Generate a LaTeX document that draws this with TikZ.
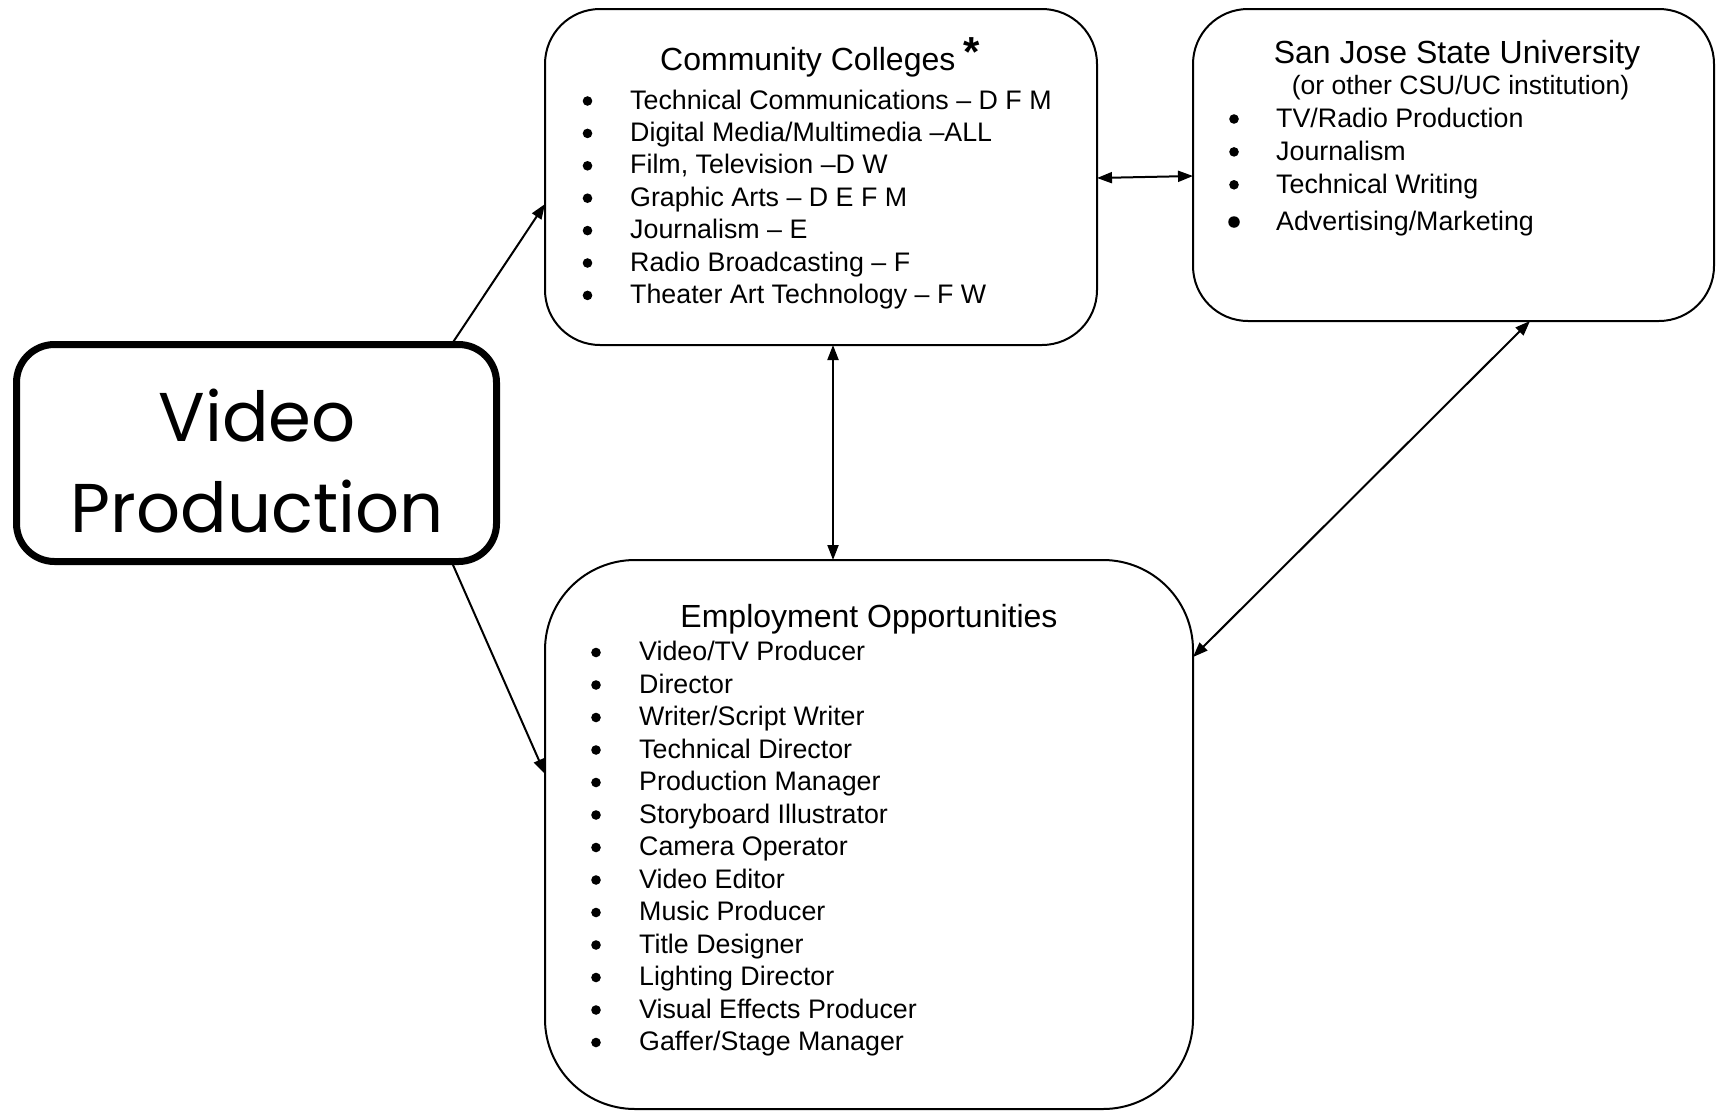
\documentclass[tikz,border=0pt]{standalone}
\usepackage{fontspec}
\setmainfont{Liberation Sans}
\newfontfamily\vpfont{Poppins}
\usetikzlibrary{arrows.meta}
\begin{document}
\begin{tikzpicture}[x=1pt,y=-1pt,
  box/.style={draw, line width=2pt, rounded corners=#1, inner sep=0pt, outer sep=0pt},
  itemtxt/.style={anchor=base west, inner sep=0pt, font=\fontsize{26.8}{32}\selectfont},
  headtxt/.style={anchor=base, inner sep=0pt, font=\fontsize{32}{38}\selectfont},
  subtxt/.style={anchor=base, inner sep=0pt, font=\fontsize{26.5}{32}\selectfont},
  dot/.style={circle, fill, draw=none, inner sep=0pt, minimum size=#1},
  conn/.style={line width=2pt, -{Triangle[length=15pt,width=11pt]}},
  biconn/.style={line width=2pt, {Triangle[length=15pt,width=11pt]}-{Triangle[length=15pt,width=11pt]}}]
\useasboundingbox (0,0) rectangle (1716,1111);
% boxes
\node[box=38pt, line width=7pt, minimum width=480pt, minimum height=217pt] (vp) at (256.5,453) {};
\node[align=center, inner sep=0pt, font=\vpfont\fontsize{69}{91}\selectfont] (vptext) at (257,461) {Video\\Production};
\node[box=55pt, minimum width=552pt, minimum height=336pt] (cc) at (821,177) {};
\node[box=55pt, minimum width=521pt, minimum height=312pt] (sj) at (1453.5,165) {};
\node[box=90pt, minimum width=648pt, minimum height=549pt] (emp) at (869,834.5) {};
% community colleges
\node[anchor=base west, inner sep=0pt, font=\fontsize{32}{38}\selectfont] (cct) at (660,70) {Community Colleges};
\node[anchor=center, inner sep=0pt, font=\fontsize{42}{46}\selectfont] (ccstar) at (972,52) {\textbf{*}};
\foreach \t [count=\i from 0] in {Technical Communications – D F M, Digital Media/Multimedia –ALL, {Film, Television –D W}, Graphic Arts – D E F M, Journalism – E, Radio Broadcasting – F, Theater Art Technology – F W}{
  \node[dot=9.6pt] (ccb\i) at (587.5,101+32.4*\i) {};
  \node[itemtxt] (cc\i) at (630,109+32.4*\i) {\t};
}
% SJSU
\node[headtxt] (sjt) at (1457,63.5) {San Jose State University};
\node[subtxt] (sjs) at (1460.5,94) {(or other CSU/UC institution)};
\node[dot=9.6pt] (sjb0) at (1234,119) {};
\node[itemtxt] (sj0) at (1276,127.5) {TV/Radio Production};
\node[dot=9.6pt] (sjb1) at (1234,151.9) {};
\node[itemtxt] (sj1) at (1276,160.4) {Journalism};
\node[dot=9.6pt] (sjb2) at (1234,184.8) {};
\node[itemtxt] (sj2) at (1276,193.3) {Technical Writing};
\node[dot=11.5pt] (sjb3) at (1234,222) {};
\node[itemtxt] (sj3) at (1276,230.7) {Advertising/Marketing};
% Employment
\node[headtxt] (empt) at (869,627) {Employment Opportunities};
\foreach \t [count=\i from 0] in {Video/TV Producer, Director, Writer/Script Writer, Technical Director, Production Manager, Storyboard Illustrator, Camera Operator, Video Editor, Music Producer, Title Designer, Lighting Director, Visual Effects Producer, Gaffer/Stage Manager}{
  \node[dot=9.6pt] (empb\i) at (596,652.5+32.5*\i) {};
  \node[itemtxt] (emp\i) at (639,660.5+32.5*\i) {\t};
}
% connectors
\draw[conn] ([xshift=-45pt]vp.north east) -- ([yshift=-27pt]cc.west);
\draw[conn] ([xshift=-45pt]vp.south east) -- ([yshift=60.5pt]emp.west);
\draw[biconn] ([xshift=12pt]cc.south) -- ([xshift=-36pt]emp.north);
\draw[biconn] ([yshift=-1pt]cc.east) -- ([yshift=-11pt]sj.west);
\draw[biconn] ([xshift=76.5pt]sj.south) -- ([yshift=177.5pt]emp.east);
\end{tikzpicture}
\end{document}
